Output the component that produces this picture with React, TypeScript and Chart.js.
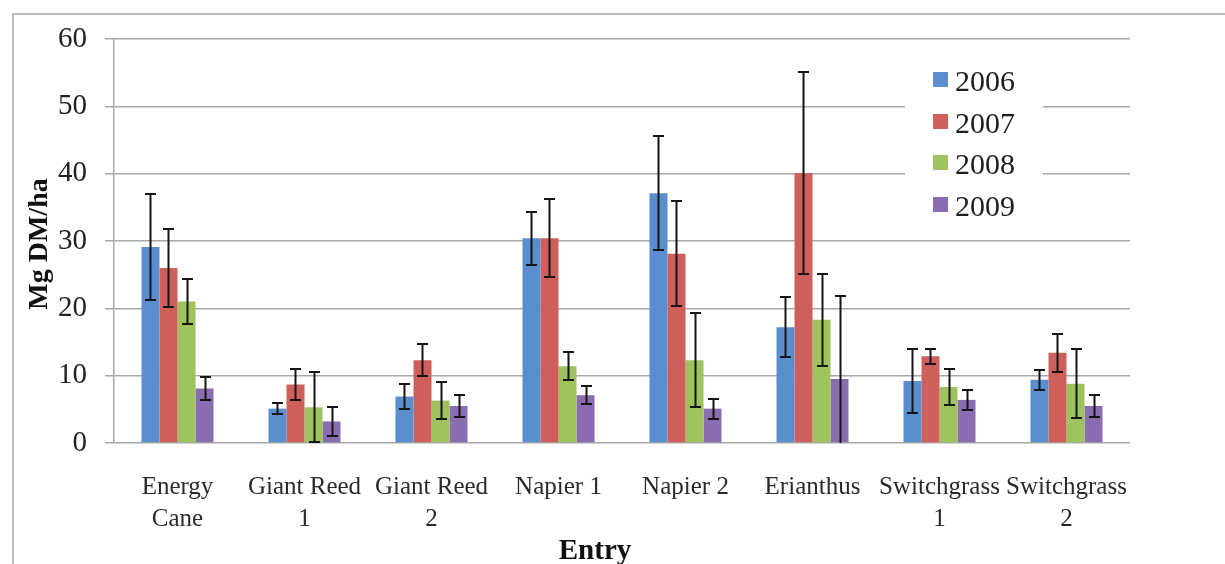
import React, { useEffect, useRef } from "react";
import { Chart, registerables } from "chart.js";

Chart.register(...registerables);

const categories: (string | string[])[] = [
  ["Energy", "Cane"],
  ["Giant Reed", "1"],
  ["Giant Reed", "2"],
  "Napier 1",
  "Napier 2",
  "Erianthus",
  ["Switchgrass", "1"],
  ["Switchgrass", "2"],
];

const seriesLabels = ["2006", "2007", "2008", "2009"];

const values2006 = [29.1, 5.1, 6.9, 30.4, 37.1, 17.2, 9.2, 9.4];
const values2007 = [26.0, 8.7, 12.3, 30.4, 28.1, 40.1, 12.9, 13.4];
const values2008 = [21.0, 5.3, 6.3, 11.4, 12.3, 18.3, 8.3, 8.8];
const values2009 = [8.1, 3.2, 5.5, 7.1, 5.1, 9.5, 6.4, 5.5];

const errors2006 = [7.9, 0.8, 1.8, 3.9, 8.5, 4.5, 4.8, 1.5];
const errors2007 = [5.8, 2.3, 2.4, 5.8, 7.8, 15.0, 1.1, 2.8];
const errors2008 = [3.3, 5.2, 2.7, 2.1, 7.0, 6.8, 2.7, 5.1];
const errors2009 = [1.7, 2.1, 1.7, 1.3, 1.5, 12.3, 1.5, 1.7];

const seriesColors = ["#5A8ECE", "#CF5F5A", "#9EC25E", "#8A6DB0"];

const yMin = 0;
const yMax = 60;
const yStep = 10;

const yTitle = "Mg DM/ha";
const xTitle = "Entry";

const SERIF = "'Liberation Serif', 'Times New Roman', serif";

const allValues = [values2006, values2007, values2008, values2009];
const allErrors = [errors2006, errors2007, errors2008, errors2009];

const framePlugin = {
  id: "frame",
  beforeDraw(chart: any) {
    const ctx = chart.ctx;
    ctx.save();
    ctx.fillStyle = "#ffffff";
    ctx.fillRect(0, 0, chart.width, chart.height);
    ctx.strokeStyle = "#BDBDBD";
    ctx.lineWidth = 2;
    ctx.beginPath();
    ctx.moveTo(13, chart.height + 2);
    ctx.lineTo(13, 14);
    ctx.lineTo(chart.width + 2, 14);
    ctx.stroke();
    ctx.restore();
  },
};

const errorBarPlugin = {
  id: "errorBars",
  afterDatasetsDraw(chart: any) {
    const ctx = chart.ctx;
    const yScale = chart.scales.y;
    ctx.save();
    ctx.strokeStyle = "#151515";
    ctx.lineWidth = 2;
    chart.data.datasets.forEach((ds: any, i: number) => {
      const meta = chart.getDatasetMeta(i);
      const errs = allErrors[i];
      meta.data.forEach((bar: any, j: number) => {
        const v = ds.data[j];
        const e = errs[j];
        const x = Math.round(bar.x) + 0.5;
        const hiV = v + e;
        const loV = v - e;
        const yHi = Math.round(yScale.getPixelForValue(hiV));
        const yLo = Math.round(yScale.getPixelForValue(Math.max(0, loV)));
        const cap = 5.5;
        ctx.beginPath();
        ctx.moveTo(x, yHi);
        ctx.lineTo(x, yLo);
        ctx.moveTo(x - cap, yHi);
        ctx.lineTo(x + cap, yHi);
        if (loV >= 0) {
          ctx.moveTo(x - cap, yLo);
          ctx.lineTo(x + cap, yLo);
        }
        ctx.stroke();
      });
    });
    ctx.restore();
  },
};

const legendAndTitlesPlugin = {
  id: "legendTitles",
  afterDraw(chart: any) {
    const ctx = chart.ctx;
    ctx.save();
    // legend box
    ctx.fillStyle = "#ffffff";
    ctx.fillRect(905, 52, 138, 178);
    const rowY = [82, 124, 165, 207];
    chart.data.datasets.forEach((ds: any, i: number) => {
      const cy = rowY[i];
      ctx.fillStyle = ds.backgroundColor;
      ctx.fillRect(933, cy - 10, 15, 15);
      ctx.fillStyle = "#1e1e1e";
      ctx.font = `30px ${SERIF}`;
      ctx.textAlign = "left";
      ctx.textBaseline = "middle";
      ctx.fillText(ds.label, 955, cy + 1);
    });
    // y axis title
    ctx.save();
    ctx.translate(47, 244);
    ctx.rotate(-Math.PI / 2);
    ctx.font = `bold 28px ${SERIF}`;
    ctx.fillStyle = "#111111";
    ctx.textAlign = "center";
    ctx.textBaseline = "alphabetic";
    ctx.fillText(yTitle, 0, 0);
    ctx.restore();
    // x axis title
    ctx.font = `bold 29px ${SERIF}`;
    ctx.fillStyle = "#111111";
    ctx.textAlign = "center";
    ctx.textBaseline = "alphabetic";
    ctx.fillText(xTitle, 595, 559);
    ctx.restore();
  },
};

export default function App() {
  const canvasRef = useRef<HTMLCanvasElement | null>(null);

  useEffect(() => {
    if (!canvasRef.current) return;
    const chart = new Chart(canvasRef.current, {
      type: "bar",
      data: {
        labels: categories,
        datasets: seriesLabels.map((label, i) => ({
          label,
          data: allValues[i],
          backgroundColor: seriesColors[i],
          borderWidth: 0,
          categoryPercentage: 0.567,
          barPercentage: 1,
        })),
      },
      options: {
        responsive: false,
        animation: false,
        layout: { padding: { left: 0, right: 95, top: 39, bottom: 0 } },
        plugins: {
          legend: { display: false },
          tooltip: { enabled: false },
        },
        scales: {
          x: {
            grid: { display: false, drawTicks: false },
            border: { display: false },
            ticks: {
              padding: 28,
              color: "#2a2a2a",
              font: { family: SERIF, size: 25, lineHeight: 1.28 },
              maxRotation: 0,
              autoSkip: false,
            },
            afterFit: (scale: any) => {
              scale.height = 121;
            },
          },
          y: {
            min: yMin,
            max: yMax,
            ticks: {
              stepSize: yStep,
              padding: 18,
              color: "#222222",
              font: { family: SERIF, size: 29 },
            },
            grid: {
              color: "#A8A8A8",
              lineWidth: 1.5,
              drawTicks: true,
              tickLength: 9,
              tickColor: "#A8A8A8",
            },
            border: { display: true, color: "#A8A8A8", width: 1.5 },
            afterFit: (scale: any) => {
              scale.width = 114;
            },
          },
        },
      },
      plugins: [framePlugin, errorBarPlugin, legendAndTitlesPlugin],
    });
    return () => chart.destroy();
  }, []);

  return (
    <div style={{ position: "absolute", left: 0, top: 0, width: 1225, height: 564 }}>
      <canvas ref={canvasRef} width={1225} height={564} style={{ width: 1225, height: 564, display: "block" }} />
    </div>
  );
}
